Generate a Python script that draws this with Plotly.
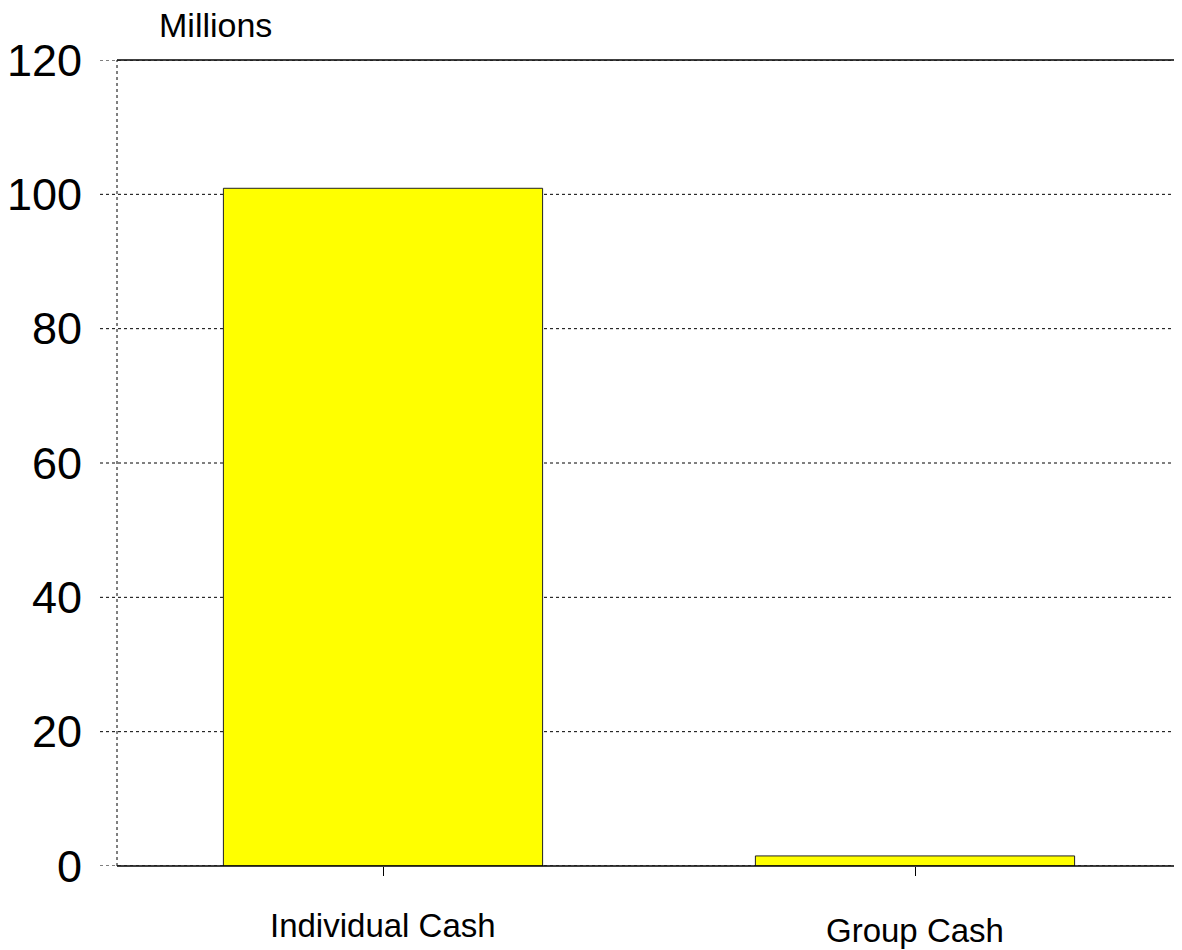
import plotly.graph_objects as go

# data
categories = ['Individual Cash', 'Group Cash']
values = [100.9, 1.5]
yticks = [0, 20, 40, 60, 80, 100, 120]
label_drop = [59, 64]  # px below the axis line, the two labels sit at slightly different heights

FONT = 'Liberation Sans, Arial, sans-serif'
# page body adds 8px offset, so the figure is 8px smaller and margins shifted
W, H = 1174, 942
L, R, T, B = 109, 1, 52, 84
plot_h = H - T - B
plot_w = W - L - R

fig = go.Figure()
fig.add_trace(go.Bar(
    x=categories, y=values,
    marker=dict(color='#ffff00', line=dict(color='#222222', width=1)),
    width=0.6,
))

# dotted grid lines, extended left to act as the tick marks
for v in yticks:
    fig.add_shape(type='line', xref='paper', yref='y', x0=-17 / plot_w, x1=1, y0=v, y1=v,
                  line=dict(color='black', width=1, dash='dot'), layer='below')

# frame: dotted sides, solid top and bottom
fig.add_shape(type='line', xref='paper', yref='paper', x0=0, x1=0, y0=0, y1=1,
              line=dict(color='black', width=1, dash='dot'))
fig.add_shape(type='line', xref='paper', yref='paper', x0=1, x1=1, y0=0, y1=1,
              line=dict(color='black', width=1, dash='dot'))
fig.add_shape(type='line', xref='paper', yref='paper', x0=0, x1=1, y0=1, y1=1,
              line=dict(color='black', width=1.5))
fig.add_shape(type='line', xref='paper', yref='paper', x0=0, x1=1, y0=0, y1=0,
              line=dict(color='black', width=1.5))

for c, d in zip(categories, label_drop):
    fig.add_annotation(x=c, xref='x', yref='paper', y=-d / plot_h, yanchor='middle',
                       text=c, showarrow=False, font=dict(family=FONT, size=33, color='black'))

fig.add_annotation(text='Millions', xref='paper', yref='paper', x=(215 - 117) / plot_w,
                   y=1 + 35 / plot_h, xanchor='center', yanchor='middle', showarrow=False,
                   font=dict(family=FONT, size=34, color='black'))

fig.update_layout(
    width=W, height=H,
    margin=dict(l=L, r=R, t=T, b=B),
    paper_bgcolor='white', plot_bgcolor='white',
    showlegend=False,
    font=dict(family=FONT, color='black'),
)
fig.update_xaxes(
    showgrid=False, zeroline=False, showline=False, automargin=False,
    ticks='outside', ticklen=9, tickcolor='black', tickwidth=1,
    showticklabels=False,
)
fig.update_yaxes(
    range=[0, 120], tickvals=yticks, showgrid=False, zeroline=False, showline=False,
    automargin=False,
    ticks='', tickfont=dict(family=FONT, size=45, color='black'),
    ticklabelstandoff=34,
)

fig.write_html("out.html")
